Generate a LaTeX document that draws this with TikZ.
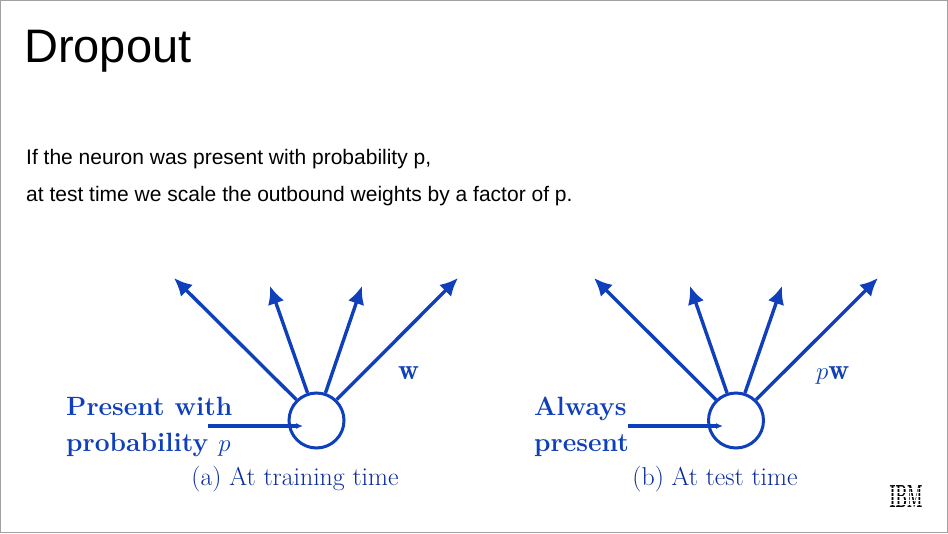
\documentclass[tikz,border=0pt]{standalone}
\usepackage{fontspec}
\usetikzlibrary{arrows.meta}
\newfontfamily\slidefont{Liberation Sans}
\definecolor{netblue}{HTML}{0F3FBB}
\definecolor{capblue}{HTML}{0A2C9A}
\definecolor{framegray}{HTML}{A0A0A0}
\tikzset{neuron/.style = {circle, draw = netblue, line width = 3pt, minimum size = 55pt, inner sep = 0pt},
         outarrow/.style = {draw = netblue, line width = 3.4pt, -{Latex[length = 18pt, width = 17pt]}},
         inarrow/.style = {draw = netblue, line width = 3.2pt, -{Latex[length = 7pt, width = 6pt]}},
         titletext/.style = {anchor = base west, inner sep = 0pt, font = \slidefont\fontsize{47}{47}\selectfont},
         bodytext/.style = {anchor = base west, inner sep = 0pt, font = \slidefont\fontsize{21}{21}\selectfont},
         boldlabel/.style = {anchor = base west, inner sep = 0pt, text = netblue, font = \fontsize{26.4}{26.4}\selectfont\bfseries},
         mathlabel/.style = {anchor = base west, inner sep = 0pt, text = netblue, font = \fontsize{29}{29}\selectfont},
         caption/.style = {anchor = base, inner sep = 0pt, text = capblue, font = \fontsize{25.8}{25.8}\selectfont},
         logostripe/.style = {draw = white, line width = 0.9pt}
        }
\begin{document}
\begin{tikzpicture}[x = 1pt, y = -1pt]
  \useasboundingbox (0,0) rectangle (948,533);
  \fill[white] (0,0) rectangle (948,533);
  \draw[framegray, line width = 1.5pt] (0.5,0.5) rectangle (947.5,532.5);
  % slide text
  \node[titletext] (title) at (24,62) {Dropout};
  \node[bodytext] (line1) at (26,164) {If the neuron was present with probability p,};
  \node[bodytext] (line2) at (26,201) {at test time we scale the outbound weights by a factor of p.};
  % left figure
  \node[neuron] (neuronA) at (316.5,420.5) {};
  \coordinate (tipA1) at (174,278);
  \coordinate (tipA2) at (270,286);
  \coordinate (tipA3) at (362,286);
  \coordinate (tipA4) at (458,278);
  \coordinate (startA) at (208,426);
  \coordinate (endA) at (303,426);
  \draw[outarrow] (neuronA.134) -- (tipA1);
  \draw[outarrow] (neuronA.108) -- (tipA2);
  \draw[outarrow] (neuronA.72) -- (tipA3);
  \draw[outarrow] (neuronA.46) -- (tipA4);
  \draw[inarrow] (startA) -- (endA);
  \node[boldlabel] (presentA) at (66,415) {Present with};
  \node[boldlabel] (probA) at (66,451) {probability $p$};
  \node[mathlabel] (weightA) at (398,379) {$\mathbf{w}$};
  \node[caption] (capA) at (295,485) {(a) At training time};
  % right figure
  \node[neuron] (neuronB) at (736,420.5) {};
  \coordinate (tipB1) at (594,278);
  \coordinate (tipB2) at (690,286);
  \coordinate (tipB3) at (782,286);
  \coordinate (tipB4) at (878,278);
  \coordinate (startB) at (628,426);
  \coordinate (endB) at (723,426);
  \draw[outarrow] (neuronB.134) -- (tipB1);
  \draw[outarrow] (neuronB.108) -- (tipB2);
  \draw[outarrow] (neuronB.72) -- (tipB3);
  \draw[outarrow] (neuronB.46) -- (tipB4);
  \draw[inarrow] (startB) -- (endB);
  \node[boldlabel] (alwaysB) at (534,415) {Always};
  \node[boldlabel] (presentB) at (534,451) {present};
  \node[mathlabel] (weightB) at (816,379) {$p\mathbf{w}$};
  \node[caption] (capB) at (715,485) {(b) At test time};
  % logo
  \node[anchor = base, inner sep = 0pt, xscale = 0.45, font = \fontsize{32}{32}\selectfont\bfseries] (logo) at (906,507) {IBM};
  \draw[logostripe] (888,488.5) -- (924,488.5);
  \draw[logostripe] (888,492.5) -- (924,492.5);
  \draw[logostripe] (888,496.5) -- (924,496.5);
  \draw[logostripe] (888,500.5) -- (924,500.5);
  \draw[logostripe] (888,504.5) -- (924,504.5);
\end{tikzpicture}
\end{document}
